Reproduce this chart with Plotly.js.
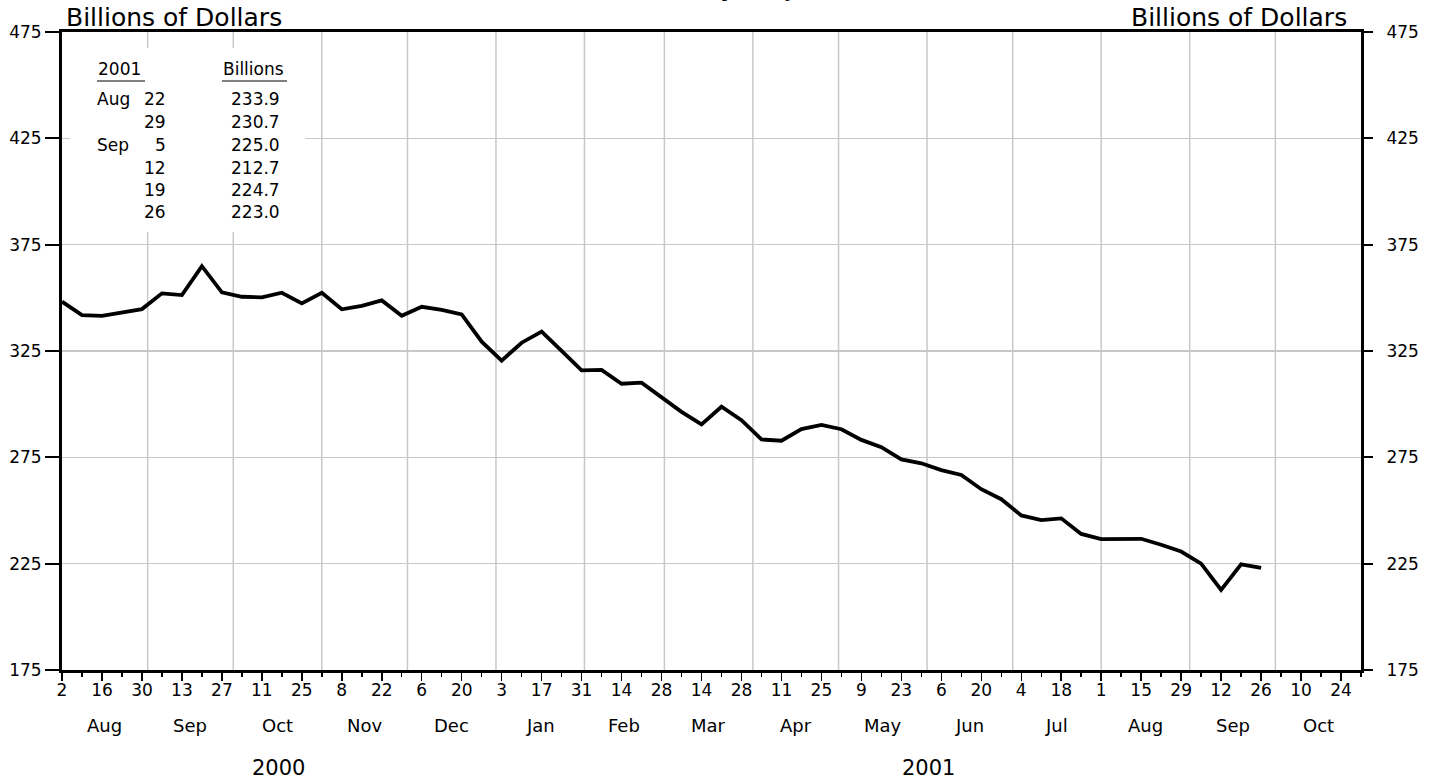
<!DOCTYPE html>
<html>
<head>
<meta charset="utf-8">
<script src="https://cdn.plot.ly/plotly-3.0.1.min.js"></script>
<style>
html,body{margin:0;padding:0;background:#fff;}
#chart{width:1439px;height:780px;}
</style>
</head>
<body>
<div id="chart"></div>
<script>
// ---- data ----
const weekDates = [
 '2000-08-02','2000-08-09','2000-08-16','2000-08-23','2000-08-30',
 '2000-09-06','2000-09-13','2000-09-20','2000-09-27',
 '2000-10-04','2000-10-11','2000-10-18','2000-10-25',
 '2000-11-01','2000-11-08','2000-11-15','2000-11-22','2000-11-29',
 '2000-12-06','2000-12-13','2000-12-20','2000-12-27',
 '2001-01-03','2001-01-10','2001-01-17','2001-01-24','2001-01-31',
 '2001-02-07','2001-02-14','2001-02-21','2001-02-28',
 '2001-03-07','2001-03-14','2001-03-21','2001-03-28',
 '2001-04-04','2001-04-11','2001-04-18','2001-04-25',
 '2001-05-02','2001-05-09','2001-05-16','2001-05-23','2001-05-30',
 '2001-06-06','2001-06-13','2001-06-20','2001-06-27',
 '2001-07-04','2001-07-11','2001-07-18','2001-07-25',
 '2001-08-01','2001-08-08','2001-08-15','2001-08-22','2001-08-29',
 '2001-09-05','2001-09-12','2001-09-19','2001-09-26'
];
const billions = [
 348.2,341.9,341.5,343.3,344.7,
 352.1,351.3,364.9,352.6,
 350.5,350.2,352.4,347.4,
 352.4,344.6,346.2,348.8,341.6,
 345.8,344.3,342.2,329.4,
 320.5,328.9,334.1,325.1,315.9,
 316.1,309.6,310.1,303.5,
 296.4,290.5,298.8,292.5,
 283.4,282.8,288.3,290.2,
 288.2,283.2,279.8,274.0,272.2,
 269.0,266.7,260.0,255.3,
 247.7,245.5,246.3,239.0,
 236.5,236.5,236.7,233.9,230.7,
 225.0,212.7,224.7,223.0
];
const majorTickDates = [
 '2000-08-02','2000-08-16','2000-08-30','2000-09-13','2000-09-27','2000-10-11','2000-10-25',
 '2000-11-08','2000-11-22','2000-12-06','2000-12-20','2001-01-03','2001-01-17','2001-01-31',
 '2001-02-14','2001-02-28','2001-03-14','2001-03-28','2001-04-11','2001-04-25','2001-05-09',
 '2001-05-23','2001-06-06','2001-06-20','2001-07-04','2001-07-18','2001-08-01','2001-08-15',
 '2001-08-29','2001-09-12','2001-09-26','2001-10-10','2001-10-24'
];
const majorTickLabels = ['2','16','30','13','27','11','25','8','22','6','20','3','17','31',
 '14','28','14','28','11','25','9','23','6','20','4','18','1','15','29','12','26','10','24'];
const monthStarts = ['2000-08-01','2000-09-01','2000-10-01','2000-11-01','2000-12-01',
 '2001-01-01','2001-02-01','2001-03-01','2001-04-01','2001-05-01','2001-06-01',
 '2001-07-01','2001-08-01','2001-09-01','2001-10-01','2001-11-01'];
const monthNames = ['Aug','Sep','Oct','Nov','Dec','Jan','Feb','Mar','Apr','May','Jun','Jul','Aug','Sep','Oct'];
const yearLabels = ['2000','2001'];
const yearStarts = ['2000-08-02','2001-01-01'];
const yearEnds = ['2001-01-01','2001-10-31'];
const xRange = ['2000-08-02','2001-10-31'];
const yRange = [175,475];
const yTicks = [175,225,275,325,375,425,475];
const tableMonths = ['Aug','','Sep','','',''];
const tableDays = ['22','29','5','12','19','26'];
const tableValues = ['233.9','230.7','225.0','212.7','224.7','223.0'];

// ---- helpers ----
const FONT = 'DejaVu Sans, sans-serif';
const L = 62, R = 1361, T = 32, B = 670;
const px = X => (X - L) / (R - L);
const py = Y => (B - Y) / (B - T);
const ms = s => { const p = s.split('-').map(Number); return Date.UTC(p[0], p[1]-1, p[2]); };
const r0 = ms(xRange[0]), r1 = ms(xRange[1]);

// minor weekly ticks
const minorTicks = [];
for (let t = r0; t <= r1; t += 7*86400000) minorTicks.push(t);

const annotations = [];
for (let i = 0; i < monthNames.length; i++) {
  const a = Math.max(ms(monthStarts[i]), r0), b = Math.min(ms(monthStarts[i+1]), r1);
  annotations.push({x:(a+b)/2, xref:'x', y:py(725), yref:'paper', text:monthNames[i],
    showarrow:false, xanchor:'center', yanchor:'middle', font:{size:18, family:FONT, color:'#000'}});
}
for (let i = 0; i < yearLabels.length; i++) {
  annotations.push({x:(ms(yearStarts[i])+ms(yearEnds[i]))/2, xref:'x', y:py(768), yref:'paper',
    text:yearLabels[i], showarrow:false, xanchor:'center', yanchor:'middle',
    font:{size:21, family:FONT, color:'#000'}});
}
annotations.push({x:px(64), y:py(17), xref:'paper', yref:'paper', text:'Billions of Dollars',
  showarrow:false, xanchor:'left', yanchor:'middle', font:{size:25, family:FONT, color:'#000'}});
annotations.push({x:px(1349), y:py(17), xref:'paper', yref:'paper', text:'Billions of Dollars',
  showarrow:false, xanchor:'right', yanchor:'middle', font:{size:25, family:FONT, color:'#000'}});
// main title, cut off by the top edge as in the reference
annotations.push({x:px(727), y:py(4), xref:'paper', yref:'paper', text:'Seasonally Adjusted',
  showarrow:false, xanchor:'center', yanchor:'bottom', font:{size:30, family:FONT, color:'#000'}});
// table
const tf = {size:17, family:FONT, color:'#000'};
annotations.push({x:px(96), y:py(69), xref:'paper', yref:'paper', text:'2001', showarrow:false, xanchor:'left', yanchor:'middle', font:tf});
annotations.push({x:px(221), y:py(69), xref:'paper', yref:'paper', text:'Billions', showarrow:false, xanchor:'left', yanchor:'middle', font:tf});
const rowY = [99, 122, 145, 168, 190, 212];
for (let i = 0; i < tableDays.length; i++) {
  if (tableMonths[i]) annotations.push({x:px(95), y:py(rowY[i]), xref:'paper', yref:'paper', text:tableMonths[i], showarrow:false, xanchor:'left', yanchor:'middle', font:tf});
  annotations.push({x:px(168), y:py(rowY[i]), xref:'paper', yref:'paper', text:tableDays[i], showarrow:false, xanchor:'right', yanchor:'middle', font:tf});
  annotations.push({x:px(282), y:py(rowY[i]), xref:'paper', yref:'paper', text:tableValues[i], showarrow:false, xanchor:'right', yanchor:'middle', font:tf});
}

const shapes = [];
// month gridlines (vertical) from the month-start list
for (let i = 1; i < monthStarts.length - 1; i++) {
  shapes.push({type:'line', xref:'x', yref:'paper', x0:ms(monthStarts[i]), x1:ms(monthStarts[i]),
    y0:0, y1:1, line:{color:'#c8c8c8', width:1.5}, layer:'below'});
}
shapes.push({type:'rect', xref:'paper', yref:'paper', x0:px(70), x1:px(305), y0:py(48), y1:py(232),
   fillcolor:'#fff', line:{width:0}, layer:'above'});
shapes.push({type:'line', xref:'paper', yref:'paper', x0:px(97), x1:px(145), y0:py(81), y1:py(81), line:{color:'#000', width:1}, layer:'above'});
shapes.push({type:'line', xref:'paper', yref:'paper', x0:px(222), x1:px(287), y0:py(81), y1:py(81), line:{color:'#000', width:1}, layer:'above'});

const trace = {x:weekDates, y:billions, type:'scatter', mode:'lines', xaxis:'x', yaxis:'y',
  line:{color:'#000', width:3.8}, hoverinfo:'x+y', showlegend:false};
// same series bound to the right-hand axis (zero width) so that axis is rendered
const traceRight = {x:weekDates, y:billions, type:'scatter', mode:'lines', xaxis:'x', yaxis:'y2',
  line:{color:'rgba(0,0,0,0)', width:0}, hoverinfo:'skip', showlegend:false};

const axFont = {size:17, family:FONT, color:'#000'};
const layout = {
  width:1439, height:780,
  margin:{l:L, r:1439-R, t:T, b:780-B, pad:0},
  paper_bgcolor:'#fff', plot_bgcolor:'#fff',
  showlegend:false,
  font:{family:FONT, color:'#000', size:17},
  xaxis:{type:'date', range:xRange, tickmode:'array', tickvals:majorTickDates, ticktext:majorTickLabels,
    ticks:'outside', ticklen:8, tickwidth:1.5, tickcolor:'#000', showgrid:false,
    showline:true, linewidth:3, linecolor:'#000', mirror:true, zeroline:false,
    tickfont:axFont, ticklabelstandoff:-5, tickangle:0,
    minor:{tickmode:'array', tickvals:minorTicks, ticks:'outside', ticklen:4, tickwidth:1.5, tickcolor:'#000', showgrid:false}},
  yaxis:{range:yRange, tickmode:'array', tickvals:yTicks, ticks:'outside', ticklen:14, tickwidth:2, tickcolor:'#000',
    showgrid:true, gridcolor:'#c8c8c8', gridwidth:1.5, showline:true, linewidth:3, linecolor:'#000',
    zeroline:false, tickfont:axFont},
  yaxis2:{range:yRange, overlaying:'y', side:'right', anchor:'x', tickmode:'array', tickvals:yTicks,
    ticks:'outside', ticklen:9, tickwidth:2, tickcolor:'#000', showgrid:false, showline:true,
    linewidth:3, linecolor:'#000', zeroline:false, tickfont:axFont, ticklabelstandoff:10},
  annotations:annotations,
  shapes:shapes
};

Plotly.newPlot('chart', [trace, traceRight], layout, {displayModeBar:false, staticPlot:true});
</script>
</body>
</html>
